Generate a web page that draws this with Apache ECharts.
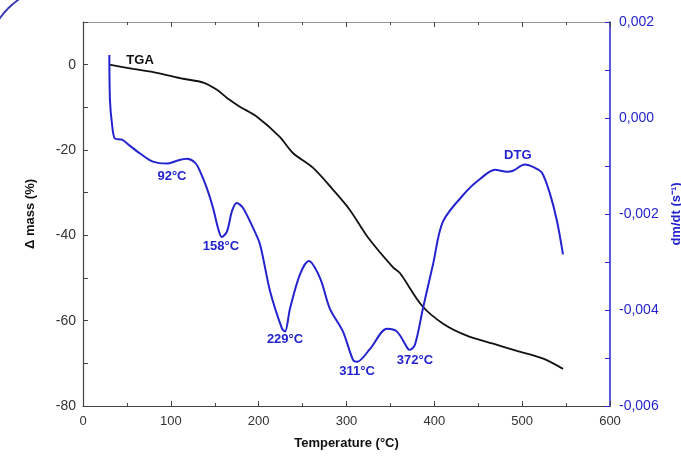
<!DOCTYPE html>
<html>
<head>
<meta charset="utf-8">
<script src="https://cdn.jsdelivr.net/npm/echarts@6/dist/echarts.min.js"></script>
<style>html,body{margin:0;padding:0;background:#fff}#c{width:681px;height:456px}</style>
</head>
<body>
<div id="c"></div>
<script>
// Temperature (°C) and mass loss (%) for the TGA curve
const tgaT = [30, 57, 84, 114, 137, 152.5, 164, 179, 198, 224, 239, 262, 285, 304, 324.5, 353, 361, 386, 410, 437, 467, 494, 524, 546.5];
const tgaMass = [0, -1, -1.9, -3.3, -4.2, -5.9, -7.8, -9.9, -12.2, -16.9, -20.7, -24.2, -29.4, -34.1, -40.5, -47.5, -48.9, -56.5, -60.7, -63.5, -65.4, -67.1, -68.9, -71.3];
// Temperature (°C) and dm/dt (s^-1) for the DTG curve
const dtgT = [30, 30.7, 33, 36.4, 44.4, 53.5, 65, 79.7, 95.6, 107, 118.4, 127.5, 133, 141, 148, 153.7, 158, 164, 169.6, 175, 182, 193.6, 201.5, 213, 226.6, 230, 235.7, 247, 257, 270, 281, 296, 307.4, 312, 326.8, 346, 357.5, 370, 372, 378, 387, 398.5, 410, 437, 452, 469, 482.7, 489.6, 503, 514.6, 522.6, 531.7, 539.7, 546.5];
const dtgVal = [0.00131, 0.00037, -0.00012, -0.00043, -0.00045, -0.00058, -0.00074, -0.00091, -0.00095, -0.00089, -0.00085, -0.00093, -0.00110, -0.00146, -0.00187, -0.00229, -0.00248, -0.00236, -0.00194, -0.00177, -0.00187, -0.00229, -0.00263, -0.00361, -0.00439, -0.00445, -0.00397, -0.00326, -0.00298, -0.00334, -0.00397, -0.00445, -0.00504, -0.00508, -0.00481, -0.00439, -0.00445, -0.00481, -0.00483, -0.00472, -0.00397, -0.00305, -0.00215, -0.00152, -0.00127, -0.00108, -0.00112, -0.00110, -0.00097, -0.00104, -0.00114, -0.00158, -0.00215, -0.00284];
// Peak annotations on the DTG curve
const peakText = ['92°C', '158°C', '229°C', '311°C', '372°C', 'DTG'];
const peakT = [101.3, 157, 230, 312, 378, 495];
const peakY = [-0.001225, -0.00267, -0.00462, -0.00529, -0.00506, -0.000785];
// Curve name label on TGA
const tgaLabel = ['TGA'];
const tgaLabelT = [65];
const tgaLabelY = [1.1];

const FONT = '"Liberation Sans", Arial, sans-serif';
const BLUE = '#2323cf';

const chart = echarts.init(document.getElementById('c'), null, {renderer: 'canvas'});
const commaFmt = v => (Math.abs(v) < 1e-9 ? '0,000' : v.toFixed(3).replace('.', ','));
const labelBase = {show: true, position: 'inside', formatter: p => p.name,
  fontFamily: FONT, fontWeight: 'bold', fontSize: 13, opacity: 1,
  textBorderWidth: 0, textShadowBlur: 0};
chart.setOption({
  animation: false,
  backgroundColor: '#fff',
  grid: {left: 83, right: 71, top: 22, bottom: 50, containLabel: false, outerBoundsMode: 'none'},
  xAxis: [{
    type: 'value', min: 0, max: 600, interval: 100, position: 'bottom',
    name: 'Temperature (°C)', nameLocation: 'middle', nameGap: 31,
    nameTextStyle: {fontFamily: FONT, fontWeight: 'bold', fontSize: 13, color: '#111'},
    axisLine: {onZero: false, lineStyle: {color: '#444', width: 1.2}},
    axisTick: {inside: true, length: 5, lineStyle: {color: '#444'}},
    minorTick: {show: true, splitNumber: 2, length: 3, lineStyle: {color: '#444'}},
    axisLabel: {fontFamily: FONT, fontSize: 13, color: '#333', margin: 9},
    splitLine: {show: false}
  }, {
    type: 'value', min: 0, max: 600, interval: 100, position: 'top',
    axisLine: {onZero: false, lineStyle: {color: '#999', width: 1.2}},
    axisTick: {inside: true, length: 5, lineStyle: {color: '#444'}},
    minorTick: {show: true, splitNumber: 2, length: 3, lineStyle: {color: '#444'}},
    axisLabel: {show: false},
    splitLine: {show: false}
  }],
  yAxis: [{
    type: 'value', min: -80, max: 10, interval: 10, position: 'left',
    name: 'Δ mass (%)', nameLocation: 'middle', nameGap: 46,
    nameTextStyle: {fontFamily: FONT, fontWeight: 'bold', fontSize: 13, color: '#111'},
    axisLine: {show: true, onZero: false, lineStyle: {color: '#444', width: 1.2}},
    axisTick: {inside: true, length: 5, lineStyle: {color: '#444'}},
    axisLabel: {fontFamily: FONT, fontSize: 14, color: '#333', margin: 7,
      formatter: v => (Math.round(v) % 20 === 0 ? String(Math.round(v)) : '')},
    splitLine: {show: false}
  }, {
    type: 'value', min: -0.006, max: 0.002, interval: 0.002, position: 'right',
    name: 'dm/dt (s⁻¹)', nameLocation: 'middle', nameGap: 60,
    nameTextStyle: {fontFamily: FONT, fontWeight: 'bold', fontSize: 13, color: BLUE},
    axisLine: {show: true, onZero: false, lineStyle: {color: BLUE, width: 1.5}},
    axisTick: {inside: true, length: 5, lineStyle: {color: BLUE}},
    minorTick: {show: true, splitNumber: 2, length: 5, lineStyle: {color: BLUE}},
    axisLabel: {fontFamily: FONT, fontSize: 14, color: BLUE, margin: 9, formatter: commaFmt},
    splitLine: {show: false}
  }],
  series: [{
    name: 'TGA', type: 'line', xAxisIndex: 0, yAxisIndex: 0,
    data: tgaT.map((t, i) => [t, tgaMass[i]]),
    smooth: 0.3, showSymbol: false, symbol: 'none',
    lineStyle: {color: '#111', width: 1.8}, z: 3
  }, {
    name: 'DTG', type: 'line', xAxisIndex: 0, yAxisIndex: 1,
    data: dtgT.map((t, i) => [t, dtgVal[i]]),
    smooth: 0.3, showSymbol: false, symbol: 'none',
    lineStyle: {color: BLUE, width: 2}, z: 4
  }, {
    type: 'scatter', xAxisIndex: 0, yAxisIndex: 1, symbolSize: 1,
    itemStyle: {color: 'rgba(0,0,0,0)', opacity: 1},
    data: peakT.map((t, i) => ({value: [t, peakY[i]], name: peakText[i]})),
    label: Object.assign({}, labelBase, {color: BLUE}),
    emphasis: {disabled: true},
    silent: true, z: 5
  }, {
    type: 'scatter', xAxisIndex: 0, yAxisIndex: 0, symbolSize: 1,
    itemStyle: {color: 'rgba(0,0,0,0)', opacity: 1},
    data: tgaLabelT.map((t, i) => ({value: [t, tgaLabelY[i]], name: tgaLabel[i]})),
    label: Object.assign({}, labelBase, {color: '#111'}),
    emphasis: {disabled: true},
    silent: true, z: 5
  }],
  graphic: [{
    type: 'arc', silent: true,
    shape: {cx: 62, cy: 62, r: 76, startAngle: Math.PI, endAngle: Math.PI * 1.5},
    style: {stroke: '#3535b8', lineWidth: 1.8, fill: null}
  }]
});
</script>
</body>
</html>
